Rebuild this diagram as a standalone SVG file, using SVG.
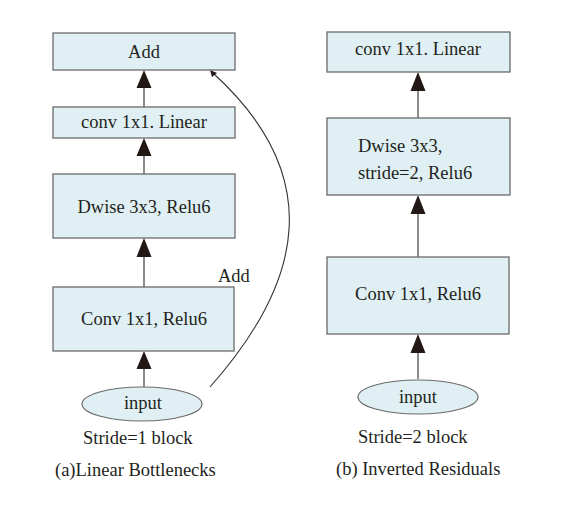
<svg xmlns="http://www.w3.org/2000/svg" width="573" height="530" viewBox="0 0 573 530">
<defs>
<style>
.box{fill:#dfeff3;stroke:#6a6a6a;stroke-width:1.3}
.ell{fill:#dfeff3;stroke:#6a6a6a;stroke-width:1.2}
.t{font-family:"Liberation Serif","Times New Roman",serif;font-size:18.5px;fill:#231f20}
.c{text-anchor:middle}
.ln{stroke:#8c8c8c;stroke-width:2;fill:none}
.hd{fill:#231815}
.cv{stroke:#333;stroke-width:1.1;fill:none}
</style>
</defs>
<rect width="573" height="530" fill="#ffffff"/>
<g id="connectors">
<line class="ln" x1="144" y1="107" x2="144" y2="86"/>
<polygon class="hd" points="144,70 136.5,88 151.5,88"/>
<line class="ln" x1="144" y1="174" x2="144" y2="154"/>
<polygon class="hd" points="144,138 136.5,156 151.5,156"/>
<line class="ln" x1="144" y1="287" x2="144" y2="255"/>
<polygon class="hd" points="144,238 136.5,257 151.5,257"/>
<line class="ln" x1="144" y1="387" x2="144" y2="367"/>
<polygon class="hd" points="144,351 136.5,369 151.5,369"/>
<path class="cv" d="M210,387 C305,280 325,175 213,73"/>
<polygon class="hd" points="210,70 217,73 212,77"/>
<line class="ln" x1="418" y1="118" x2="418" y2="89"/>
<polygon class="hd" points="418,72 410.5,91 425.5,91"/>
<line class="ln" x1="418" y1="257" x2="418" y2="212"/>
<polygon class="hd" points="418,195 410.5,214 425.5,214"/>
<line class="ln" x1="418" y1="379" x2="418" y2="351"/>
<polygon class="hd" points="418,334 410.5,353 425.5,353"/>
</g>
<g id="a-add"><rect class="box" x="53" y="33" width="182" height="37"/><text class="t c" x="144" y="58">Add</text></g>
<g id="a-linear"><rect class="box" x="53" y="107" width="182" height="31"/><text class="t c" x="144" y="128">conv 1x1. Linear</text></g>
<g id="a-dwise"><rect class="box" x="53" y="174" width="182" height="64"/><text class="t c" x="144" y="213">Dwise 3x3, Relu6</text></g>
<g id="a-conv"><rect class="box" x="53" y="287" width="181" height="64"/><text class="t c" x="144" y="325">Conv 1x1, Relu6</text></g>
<g id="a-input"><ellipse class="ell" cx="142" cy="404" rx="60" ry="17"/><text class="t c" x="143" y="409">input</text></g>
<g id="a-labels">
<text class="t" x="218" y="282">Add</text>
<text class="t" x="83" y="444">Stride=1 block</text>
<text class="t" x="55" y="476">(a)Linear Bottlenecks</text>
</g>
<g id="b-linear"><rect class="box" x="327" y="32" width="183" height="40"/><text class="t c" x="418" y="55">conv 1x1. Linear</text></g>
<g id="b-dwise"><rect class="box" x="327" y="118" width="183" height="77"/><text class="t" x="358" y="152">Dwise 3x3,</text><text class="t" x="358" y="179">stride=2, Relu6</text></g>
<g id="b-conv"><rect class="box" x="327" y="257" width="182" height="77"/><text class="t c" x="418" y="300">Conv 1x1, Relu6</text></g>
<g id="b-input"><ellipse class="ell" cx="418" cy="397" rx="60" ry="17"/><text class="t c" x="418" y="403">input</text></g>
<g id="b-labels">
<text class="t" x="358" y="443">Stride=2 block</text>
<text class="t" x="336" y="475">(b) Inverted Residuals</text>
</g>
</svg>
